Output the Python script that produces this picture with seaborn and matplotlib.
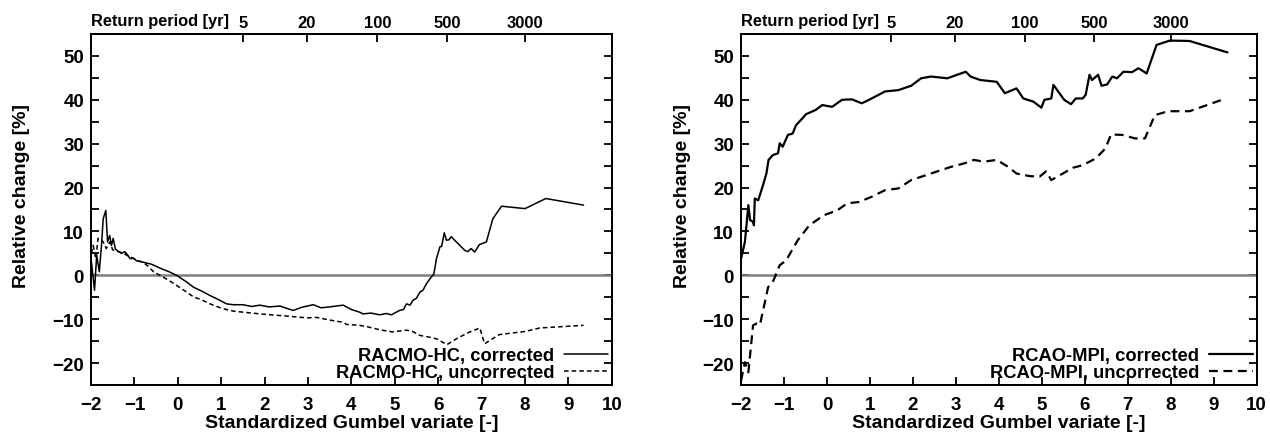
import numpy as np
import pandas as pd
import matplotlib
matplotlib.use("Agg")
import matplotlib.pyplot as plt
import seaborn as sns
from matplotlib.ticker import MultipleLocator

# ---------------- data ----------------
return_periods = [5, 20, 100, 500, 3000]
return_labels = ["5", "20", "100", "500", "3000"]

racmo_corr_x = [-1.99, -1.92, -1.87, -1.81, -1.76, -1.72, -1.66, -1.62, -1.57, -1.53, -1.49, -1.44,
                -1.38, -1.30, -1.22, -1.15, -1.10, -1.02, -0.95, -0.80, -0.60, -0.40, -0.20, -0.03,
                0.20, 0.36, 0.55, 0.74, 0.95, 1.12, 1.28, 1.50, 1.70, 1.89, 2.10, 2.35, 2.50, 2.66,
                2.85, 3.12, 3.30, 3.50, 3.65, 3.81, 4.00, 4.19, 4.27, 4.45, 4.65, 4.80, 4.92, 5.11,
                5.20, 5.27, 5.35, 5.42, 5.50, 5.58, 5.65, 5.73, 5.84, 5.90, 5.96, 6.04, 6.08, 6.14,
                6.19, 6.25, 6.30, 6.42, 6.61, 6.68, 6.76, 6.84, 6.95, 7.11, 7.26, 7.46, 8.00, 8.48, 9.35]
racmo_corr_y = [3.0, -3.4, 4.6, 0.8, 6.8, 12.9, 14.8, 7.6, 9.1, 6.8, 8.4, 6.0,
                5.5, 5.0, 5.4, 4.5, 3.8, 3.9, 3.3, 3.0, 2.5, 1.6, 0.8, 0.0,
                -1.5, -2.7, -3.6, -4.6, -5.6, -6.5, -6.7, -6.7, -7.1, -6.8, -7.2, -7.0, -7.5, -8.0,
                -7.3, -6.7, -7.4, -7.2, -7.0, -6.8, -7.8, -8.4, -8.8, -8.6, -9.0, -8.7, -9.0, -8.0,
                -7.8, -6.5, -6.8, -5.7, -5.2, -3.8, -3.4, -1.9, -0.4, 0.3, 3.8, 6.5, 6.6, 9.7,
                8.0, 8.1, 8.8, 7.6, 5.7, 5.4, 6.1, 5.3, 7.0, 7.6, 12.9, 15.75, 15.2, 17.5, 16.0]

racmo_unc_x = [-1.99, -1.95, -1.89, -1.84, -1.79, -1.72, -1.65, -1.57, -1.50, -1.40, -1.30, -1.18,
               -1.05, -0.95, -0.80, -0.68, -0.56, -0.41, -0.20, -0.03, 0.20, 0.36, 0.55, 0.74,
               0.95, 1.12, 1.30, 1.51, 1.90, 2.27, 2.65, 2.97, 3.20, 3.50, 3.81, 3.89, 4.19, 4.40,
               4.65, 4.95, 5.10, 5.27, 5.41, 5.58, 5.75, 5.97, 6.20, 6.43, 6.73, 6.96, 7.07, 7.26,
               7.41, 8.00, 8.34, 9.35]
racmo_unc_y = [5.0, 6.8, 3.8, 8.4, 8.4, 7.6, 6.1, 7.6, 5.8, 5.5, 5.2, 4.6,
               4.0, 3.4, 3.0, 2.0, 0.8, 0.0, -1.2, -2.3, -3.8, -4.9, -5.6, -6.5,
               -7.3, -7.8, -8.2, -8.4, -8.8, -9.1, -9.4, -9.7, -9.6, -10.2, -10.7, -11.2, -11.4, -11.8,
               -12.4, -12.9, -12.7, -12.5, -12.8, -13.7, -14.0, -14.5, -15.8, -14.4, -12.9, -12.0, -15.6, -14.4,
               -13.5, -12.8, -12.0, -11.4]

rcao_corr_x = [-2.00, -1.91, -1.83, -1.79, -1.72, -1.70, -1.68, -1.60, -1.49, -1.41, -1.36, -1.26,
               -1.14, -1.10, -1.03, -0.91, -0.80, -0.72, -0.57, -0.49, -0.26, -0.11, 0.12, 0.35,
               0.58, 0.81, 1.04, 1.35, 1.66, 1.96, 2.19, 2.42, 2.80, 3.03, 3.23, 3.34, 3.57, 3.95,
               4.14, 4.41, 4.57, 4.80, 4.99, 5.06, 5.22, 5.27, 5.41, 5.52, 5.68, 5.79, 5.95, 6.02,
               6.11, 6.17, 6.31, 6.39, 6.52, 6.64, 6.75, 6.90, 7.10, 7.25, 7.44, 7.67, 7.98, 8.44, 9.32]
rcao_corr_y = [3.8, 7.6, 16.0, 12.6, 12.2, 11.4, 17.5, 17.1, 20.5, 23.2, 26.3, 27.4,
               27.8, 30.1, 29.3, 32.0, 32.3, 34.2, 35.8, 36.7, 37.7, 38.8, 38.4, 40.0,
               40.1, 39.2, 40.3, 41.9, 42.2, 43.2, 44.9, 45.3, 44.9, 45.7, 46.4, 45.3, 44.5, 44.1,
               41.5, 42.6, 40.3, 39.6, 38.2, 40.0, 40.3, 43.4, 41.5, 40.0, 39.0, 40.3, 40.3, 41.1,
               45.7, 44.5, 45.7, 43.2, 43.5, 45.3, 44.9, 46.4, 46.3, 47.2, 46.0, 52.5, 53.5, 53.4, 50.8]

rcao_unc_x = [-2.00, -1.91, -1.83, -1.72, -1.64, -1.56, -1.37, -1.26, -1.10, -0.95, -0.68, -0.41,
              -0.07, 0.24, 0.47, 0.74, 1.04, 1.35, 1.66, 1.96, 2.42, 2.88, 3.19, 3.42, 3.65, 3.95,
              4.22, 4.41, 4.72, 4.95, 5.10, 5.22, 5.49, 5.72, 5.95, 6.25, 6.48, 6.61, 6.87, 7.17,
              7.40, 7.63, 7.94, 8.44, 9.28]
rcao_unc_y = [-24.0, -19.8, -22.1, -11.4, -11.0, -11.3, -2.7, -1.5, 2.3, 3.4, 8.0, 11.4,
              13.7, 14.8, 16.4, 16.7, 17.9, 19.4, 19.8, 21.7, 23.2, 24.7, 25.5, 26.3, 25.9, 26.3,
              24.7, 23.2, 22.6, 22.5, 23.7, 21.7, 23.2, 24.5, 25.1, 26.6, 28.9, 32.1, 32.0, 31.2,
              31.2, 36.5, 37.4, 37.4, 40.3]

# ---------------- style ----------------
sns.set_style("ticks")
plt.rcParams['font.family'] = ['Liberation Sans', 'DejaVu Sans']
plt.rcParams['font.weight'] = 'bold'
plt.rcParams['text.color'] = 'black'
plt.rcParams['axes.labelcolor'] = 'black'
plt.rcParams['xtick.color'] = 'black'
plt.rcParams['ytick.color'] = 'black'
plt.rcParams['axes.edgecolor'] = 'black'

fig = plt.figure(figsize=(12.7, 4.35), dpi=100)
ax_l = fig.add_axes([0.0717, 0.1126, 0.410, 0.807])
ax_r = fig.add_axes([0.5835, 0.1126, 0.406, 0.807])

gumbel_ticks = [-np.log(-np.log(1 - 1.0 / T)) for T in return_periods]

panels = [
    (ax_l, racmo_corr_x, racmo_corr_y, racmo_unc_x, racmo_unc_y,
     "RACMO-HC, corrected", "RACMO-HC, uncorrected", 1.1, (0, (3, 2)), -0.117),
    (ax_r, rcao_corr_x, rcao_corr_y, rcao_unc_x, rcao_unc_y,
     "RCAO-MPI, corrected", "RCAO-MPI, uncorrected", 1.6, (0, (4, 2.5)), -0.097),
]

for ax, cx, cy, ux, uy, lc, lu, lw, dash, ylx in panels:
    ax.axhline(0, color='#7f7f7f', lw=1.8, zorder=1)
    sns.lineplot(x=cx, y=cy, ax=ax, color='black', lw=lw, sort=False,
                 estimator=None, label=lc, zorder=3)
    sns.lineplot(x=ux, y=uy, ax=ax, color='black', lw=lw, sort=False,
                 estimator=None, label=lu, zorder=3)
    ax.lines[-1].set_linestyle(dash)
    ax.set_xlim(-2, 10)
    ax.set_ylim(-25, 55)
    ax.xaxis.set_major_locator(MultipleLocator(1))
    ax.yaxis.set_major_locator(MultipleLocator(10))
    ax.yaxis.set_minor_locator(MultipleLocator(5))
    ax.tick_params(axis='both', which='both', direction='in', right=True,
                   width=1.3, labelsize=13.5, colors='black')
    ax.tick_params(axis='x', pad=8)
    ax.tick_params(axis='y', pad=5)
    ax.tick_params(axis='both', which='major', length=6)
    ax.tick_params(axis='y', which='minor', length=6)
    for lab in ax.get_xticklabels() + ax.get_yticklabels():
        lab.set_fontweight('bold')
    for s in ax.spines.values():
        s.set_linewidth(1.4)
        s.set_color('black')
    ax.set_xlabel("Standardized Gumbel variate [-]", fontsize=14, fontweight='bold', labelpad=0.5)
    ax.set_ylabel("Relative change [%]", fontsize=14, fontweight='bold')
    ax.yaxis.set_label_coords(ylx, 0.54)

    leg = ax.legend(loc='lower right', frameon=False, markerfirst=False,
                    prop={'weight': 'bold', 'size': 13.2}, handlelength=2.4,
                    borderaxespad=0.1, borderpad=0.1, labelspacing=0.0, handletextpad=0.55)
    for t in leg.get_texts():
        t.set_color('black')

    top = ax.twiny()
    top.set_xlim(ax.get_xlim())
    top.set_xticks(gumbel_ticks)
    top.set_xticklabels(return_labels, fontweight='bold')
    top.tick_params(axis='x', direction='in', length=6, width=1.3, labelsize=12, pad=3,
                    colors='black')
    for s in top.spines.values():
        s.set_linewidth(1.4)
        s.set_color('black')
    ax.text(0.0, 1.016, "Return period [yr]", transform=ax.transAxes,
            ha='left', va='bottom', fontsize=11.8, fontweight='bold', color='black')

fig.savefig("out.png", dpi=100)
